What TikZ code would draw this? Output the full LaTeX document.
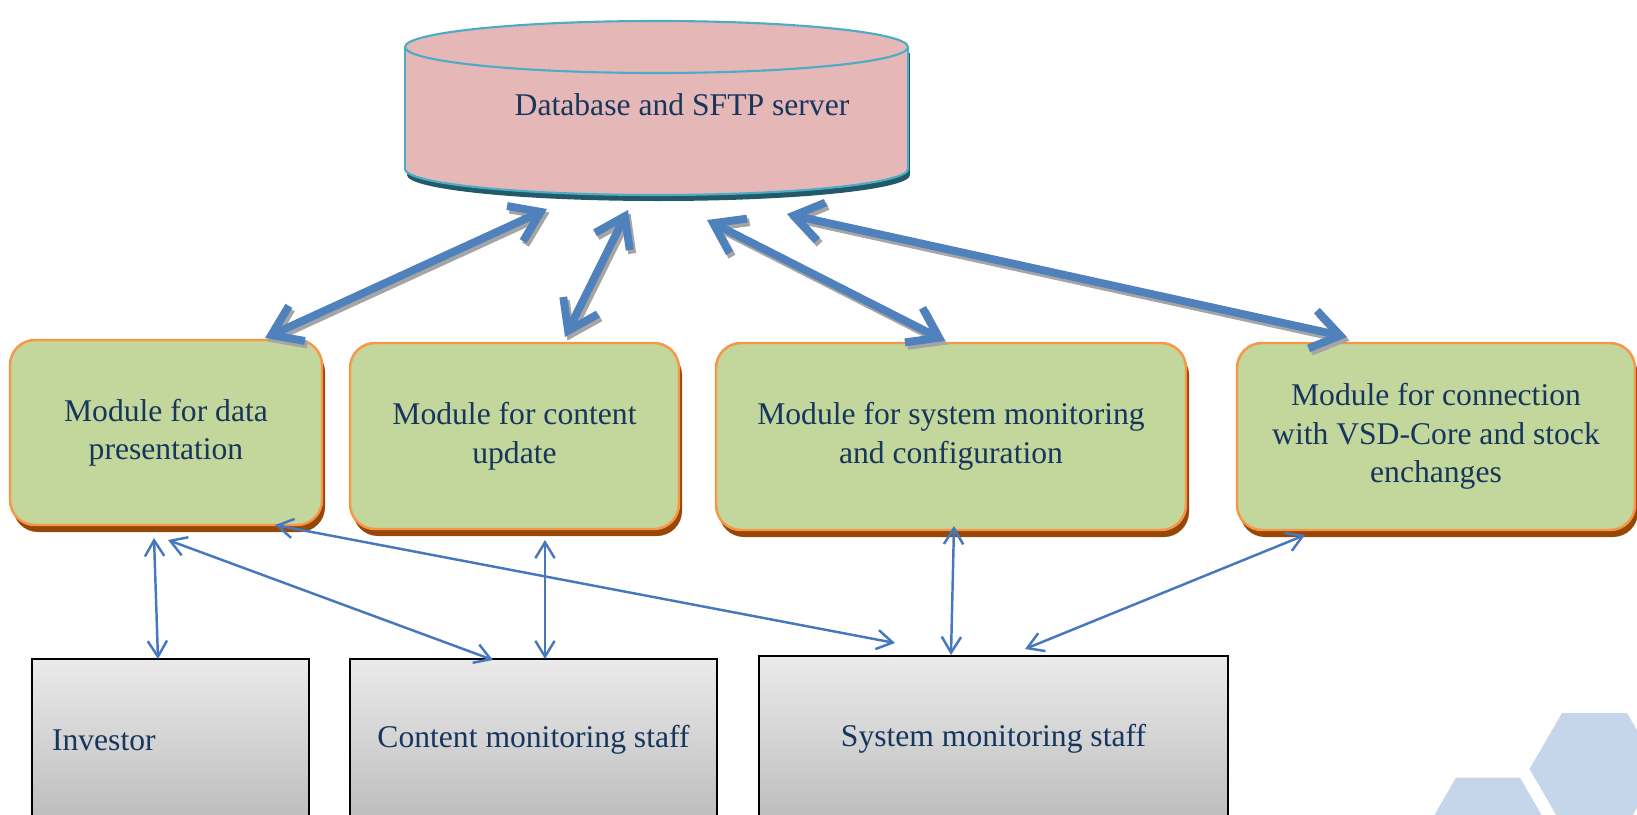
\documentclass[tikz,border=0pt]{standalone}
\usepackage{fontspec}
\setmainfont{Liberation Serif}
\usetikzlibrary{arrows.meta,shadows,calc}
\definecolor{dbfill}{RGB}{229,184,183}
\definecolor{dbline}{RGB}{75,172,198}
\definecolor{dbshadow}{RGB}{35,90,105}
\definecolor{modfill}{RGB}{195,214,155}
\definecolor{modline}{RGB}{247,150,70}
\definecolor{modshadow}{RGB}{152,72,6}
\definecolor{bigblue}{RGB}{79,129,189}
\definecolor{thinblue}{RGB}{70,120,190}
\definecolor{navy}{RGB}{23,54,93}
\definecolor{hexblue}{RGB}{197,214,234}
\definecolor{arrowshadow}{RGB}{165,165,165}
\newcommand\pxu{0.02cm}
\begin{document}
\begin{tikzpicture}[x=0.02cm,y=-0.02cm,
  every node/.style={text=navy,font=\fontsize{18}{21.9}\selectfont},
  modbox/.style={rounded corners=0.5cm,fill=modfill,draw=modline,line width=1.4pt,
    align=center,inner sep=0pt,
    drop shadow={shadow xshift=0.06cm,shadow yshift=-0.14cm,fill=modshadow,opacity=1}},
  staffbox/.style={draw=black,line width=0.9pt,top color=black!8,bottom color=black!26,inner sep=0pt},
  bigarrow/.style={line width=4.5pt,draw=bigblue,
    {Straight Barb[length=16pt,width=22pt]}-{Straight Barb[length=16pt,width=22pt]}},
  bigshadow/.style={line width=4.5pt,draw=arrowshadow,
    transform canvas={xshift=0.05cm,yshift=-0.07cm},
    {Straight Barb[length=16pt,width=22pt]}-{Straight Barb[length=16pt,width=22pt]}},
  thinarrow/.style={line width=1.4pt,draw=thinblue,
    {Straight Barb[length=9pt,width=11pt]}-{Straight Barb[length=9pt,width=11pt]}}]
\useasboundingbox (0,0) rectangle (1637,815);
\clip (0,0) rectangle (1637,815);

% hexagons
\fill[hexblue] (1659.5,769) -- (1627,713) -- (1562,713) -- (1529.5,769) -- (1562,825) -- (1627,825) -- cycle;
\fill[hexblue] (1552,833) -- (1520,777.6) -- (1456,777.6) -- (1424,833) -- (1456,888) -- (1520,888) -- cycle;

% database cylinder
\fill[dbshadow] (658.5,175) ellipse[x radius=251.5,y radius=26];
\fill[dbshadow] (407,53) rectangle (910,175);
\draw[dbline,line width=1.2pt,fill=dbfill] (656.5,169) ellipse[x radius=251.5,y radius=26];
\fill[dbfill] (405,47) rectangle (908,169);
\draw[dbline,line width=1.2pt] (405,47) -- (405,169) (908,47) -- (908,169);
\draw[dbline,line width=1.2pt,fill=dbfill] (656.5,47) ellipse[x radius=251.5,y radius=26];
\node (db) at (682,105) {Database and SFTP server};

% module boxes
\node[modbox,minimum width={312*\pxu},minimum height={185*\pxu}] (m1) at (166,432.5) {Module for data\\presentation};
\node[modbox,minimum width={329*\pxu},minimum height={186*\pxu}] (m2) at (514.5,436) {Module for content\\update};
\node[modbox,minimum width={470*\pxu},minimum height={187*\pxu}] (m3) at (951,436.5) {Module for system monitoring\\and configuration};
\node[modbox,minimum width={398*\pxu},minimum height={187*\pxu}] (m4) at (1436,436.5) {Module for connection\\with VSD-Core and stock\\enchanges};

% staff boxes
\node[staffbox,text width={237*\pxu},inner xsep={20*\pxu},align=left,minimum height={162*\pxu}] (inv) at (170.5,740) {Investor};
\node[staffbox,minimum width={367*\pxu},minimum height={162*\pxu}] (cms) at (533.5,740) {Content monitoring staff};
\node[staffbox,minimum width={469*\pxu},minimum height={165*\pxu}] (sms) at (993.5,738.5) {System monitoring staff};

% connector end points
\coordinate (dbA) at (547,209);
\coordinate (dbB) at (628,210);
\coordinate (dbC) at (707,220);
\coordinate (dbD) at (787,214);
\coordinate (m1t) at (265,338);
\coordinate (m2t) at (565,337);
\coordinate (m3t) at (945,341);
\coordinate (m4t) at (1347,337);
\coordinate (m1a) at (154,538);
\coordinate (m1b) at (168,540);
\coordinate (m1c) at (275,525);
\coordinate (m2a) at (545,540);
\coordinate (m3a) at (954,526);
\coordinate (m4a) at (1305,535);
\coordinate (inva) at (158,659);
\coordinate (cmsa) at (493,660);
\coordinate (cmsb) at (545,659);
\coordinate (smsa) at (895,643);
\coordinate (smsb) at (951,655);
\coordinate (smsc) at (1025,649);

% thick arrows
\draw[bigshadow] (m1t) -- (dbA);
\draw[bigshadow] (m2t) -- (dbB);
\draw[bigshadow] (m3t) -- (dbC);
\draw[bigshadow] (m4t) -- (dbD);
\draw[bigarrow] (m1t) -- (dbA);
\draw[bigarrow] (m2t) -- (dbB);
\draw[bigarrow] (m3t) -- (dbC);
\draw[bigarrow] (m4t) -- (dbD);

% thin arrows
\draw[thinarrow] (m1a) -- (inva);
\draw[thinarrow] (m1b) -- (cmsa);
\draw[thinarrow] (m2a) -- (cmsb);
\draw[thinarrow] (m1c) -- (smsa);
\draw[thinarrow] (m3a) -- (smsb);
\draw[thinarrow] (m4a) -- (smsc);
\end{tikzpicture}
\end{document}
